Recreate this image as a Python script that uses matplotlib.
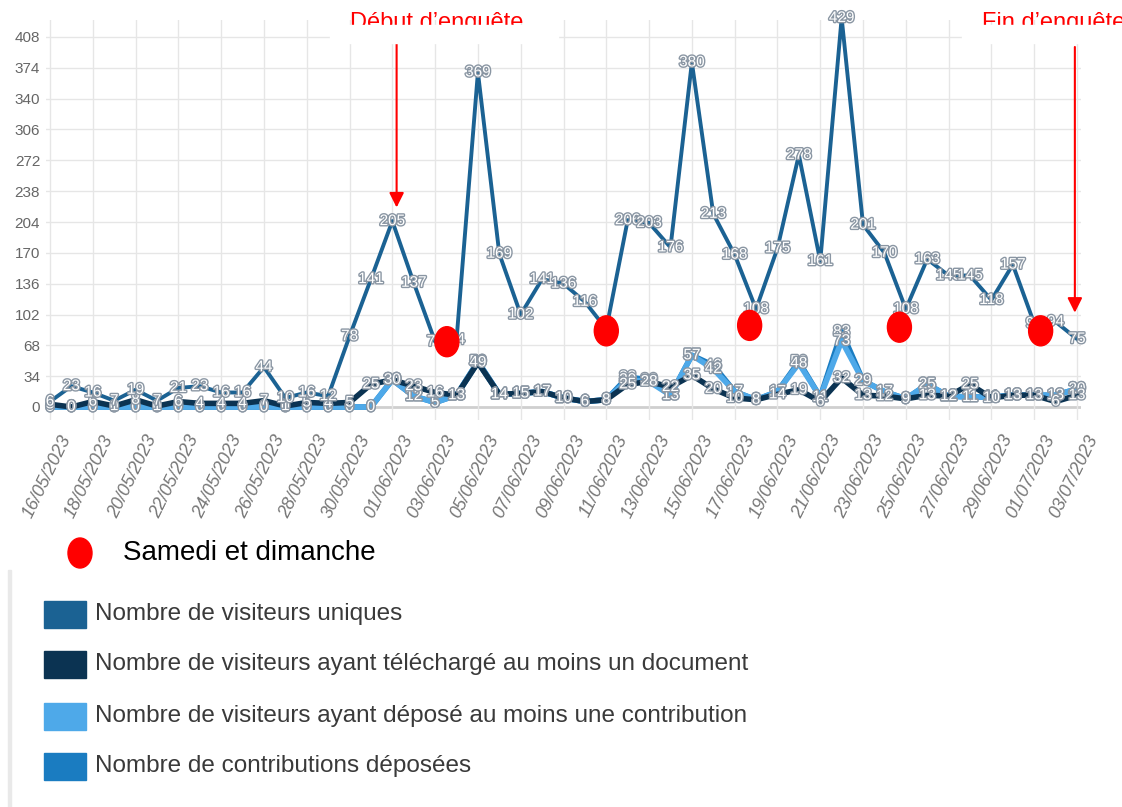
import matplotlib
matplotlib.use("Agg")
import matplotlib.pyplot as plt
import matplotlib.patheffects as pe
from matplotlib.patches import Ellipse, Rectangle
import matplotlib.transforms as mtransforms
import numpy as np
import pandas as pd

# daily values (16/05/2023 -> 03/07/2023)
dates = pd.date_range("2023-05-16", "2023-07-03", freq="D")

visiteurs_uniques = [6, 23, 16, 7, 19, 7, 21, 23, 16, 16,
                     44, 10, 16, 12, 78, 141, 205, 137, 72, 74,
                     369, 169, 102, 141, 136, 116, 86, 206, 203, 176,
                     380, 213, 168, 108, 175, 278, 161, 429, 201, 170,
                     108, 163, 145, 145, 118, 157, 92, 94, 75]

visiteurs_telechargement = [3, 0, 6, 1, 8, 1, 6, 4, 4, 4,
                            7, 1, 5, 4, 5, 25, 30, 23, 16, 13,
                            49, 14, 15, 17, 10, 6, 8, 25, 28, 22,
                            35, 20, 10, 8, 14, 19, 6, 32, 13, 12,
                            9, 13, 12, 25, 10, 13, 13, 6, 13]

visiteurs_contribution = [0, 0, 0, 0, 0, 0, 0, 0, 0, 0,
                          0, 0, 0, 0, 0, 0, 30, 12, 5, 13,
                          50, 14, 15, 17, 10, 6, 8, 30, 28, 13,
                          57, 42, 17, 8, 17, 48, 11, 73, 29, 17,
                          9, 25, 12, 11, 11, 13, 13, 13, 20]

contributions_deposees = [0, 0, 0, 0, 0, 0, 0, 0, 0, 0,
                          0, 0, 0, 0, 0, 0, 30, 12, 5, 13,
                          50, 14, 15, 17, 10, 6, 8, 33, 30, 13,
                          57, 46, 17, 8, 17, 50, 11, 83, 29, 17,
                          9, 25, 12, 11, 11, 13, 13, 13, 20]

legend_labels = ["Nombre de visiteurs uniques",
                 "Nombre de visiteurs ayant téléchargé au moins un document",
                 "Nombre de visiteurs ayant déposé au moins une contribution",
                 "Nombre de contributions déposées"]

y_ticks = list(range(0, 409, 34))

# red weekend markers drawn by hand on the screenshot (day index, height)
weekend_days = [18.55, 26.0, 32.7, 39.7, 46.3]
weekend_vals = [72, 84, 90, 88, 84]

# survey start / end arrows (day index)
debut_day = 16.2
fin_day = 47.9

C_MAIN = "#1b6293"
C_DARK = "#0b3352"
C_LIGHT = "#4ea9e9"
C_MID = "#1a7cc1"

plt.rcParams["font.family"] = ["Liberation Sans Narrow", "Liberation Sans", "DejaVu Sans"]
ARIAL = ["Liberation Sans", "DejaVu Sans"]

W, H = 1122, 807
fig = plt.figure(figsize=(W / 100, H / 100), dpi=100)

x = np.arange(len(dates))
px_day = 1027 / 48
px_val = 370 / 408
x0, x1 = -0.2, 48.2
y0, y1 = -14, 427
left = 50 + x0 * px_day
bottom = 407 - y0 * px_val
ax = fig.add_axes([left / W, (H - bottom) / H,
                   (x1 - x0) * px_day / W, (y1 - y0) * px_val / H])
ax.set_xlim(x0, x1)
ax.set_ylim(y0, y1)

for s in ax.spines.values():
    s.set_visible(False)

# grid
for v in y_ticks:
    ax.axhline(v, color="#cfcfcf" if v == 0 else "#e6e6e6",
               lw=2 if v == 0 else 1, zorder=0)
for d in range(0, len(dates), 2):
    ax.axvline(d, color="#e6e6e6", lw=1, zorder=0)

ax.set_yticks(y_ticks)
ax.set_yticklabels([str(v) for v in y_ticks], fontsize=11, color="#666666")
ax.tick_params(axis="both", length=0)
ax.tick_params(axis="y", pad=4)

ax.set_xticks(range(0, len(dates), 2))
ax.set_xticklabels([d.strftime("%d/%m/%Y") for d in dates[::2]],
                   rotation=64, ha="right", va="top", rotation_mode="anchor",
                   fontsize=13, color="#777777", style="italic")
offset = mtransforms.ScaledTranslation(0.09, -0.08, fig.dpi_scale_trans)
for lab in ax.get_xticklabels():
    lab.set_transform(lab.get_transform() + offset)

# lines
ax.plot(x, contributions_deposees, color=C_MID, lw=4, zorder=2,
        solid_joinstyle="round")
ax.plot(x, visiteurs_contribution, color=C_LIGHT, lw=4, zorder=3,
        solid_joinstyle="round")
ax.plot(x, visiteurs_telechargement, color=C_DARK, lw=4, zorder=4,
        solid_joinstyle="round")
ax.plot(x, visiteurs_uniques, color=C_MAIN, lw=2.8, zorder=5,
        solid_joinstyle="round")

# value labels
stroke = [pe.withStroke(linewidth=2, foreground="#8a96a3")]
for vals, z in [(contributions_deposees, 6), (visiteurs_contribution, 7),
                (visiteurs_telechargement, 8), (visiteurs_uniques, 9)]:
    for xi, v in zip(x, vals):
        ax.text(xi, v, str(v), ha="center", va="center", fontsize=11,
                color="white", path_effects=stroke, zorder=z)

# weekend dots
for d, v in zip(weekend_days, weekend_vals):
    ax.add_patch(Ellipse((d, v), 24 / px_day, 30 / px_val,
                         color="red", zorder=12))

# survey arrows
arrow = dict(arrowstyle="-|>", color="red", lw=1.5, mutation_scale=22,
             shrinkA=0, shrinkB=0)
ax.annotate("", xy=(debut_day, 220), xytext=(debut_day, 401),
            arrowprops=arrow, zorder=12, annotation_clip=False)
ax.annotate("", xy=(fin_day, 104), xytext=(fin_day, 397),
            arrowprops=arrow, zorder=12, annotation_clip=False)

fig.text(350 / W, 1 - 12 / H, "Début d’enquête", color="red", fontsize=17,
         family=ARIAL, va="top", ha="left", zorder=5)
fig.text(982 / W, 1 - 12 / H, "Fin d’enquête", color="red", fontsize=17,
         family=ARIAL, va="top", ha="left", zorder=5)
# white boxes pasted over the chart top in the screenshot
for bx0, bx1 in [(330, 558), (962, W)]:
    fig.patches.append(Rectangle((bx0 / W, 1 - 43 / H), (bx1 - bx0) / W, 18 / H,
                                 transform=fig.transFigure, color="white",
                                 zorder=6))

# weekend key
fig.patches.append(Ellipse((80 / W, 1 - 553 / H), 24 / W, 30 / H,
                           transform=fig.transFigure, color="red", zorder=5))
fig.text(123 / W, 1 - 553 / H, "Samedi et dimanche", fontsize=20,
         family=ARIAL, color="black", va="center", ha="left")

# legend panel (cropped from the original page)
fig.patches.append(Rectangle((8 / W, 0), 3 / W, (H - 570) / H,
                             transform=fig.transFigure, color="#e9e9e9",
                             zorder=1))
legend_colors = [C_MAIN, C_DARK, C_LIGHT, C_MID]
legend_y = [614, 664, 716, 766]
for lab, col, yy in zip(legend_labels, legend_colors, legend_y):
    fig.patches.append(Rectangle((44 / W, 1 - (yy + 13.5) / H), 42 / W, 27 / H,
                                 transform=fig.transFigure, color=col,
                                 zorder=2))
    fig.text(95 / W, 1 - yy / H, lab, fontsize=17.5, family=ARIAL,
             color="#3a3a3a", va="center", ha="left")

fig.savefig("out.png", dpi=100)
